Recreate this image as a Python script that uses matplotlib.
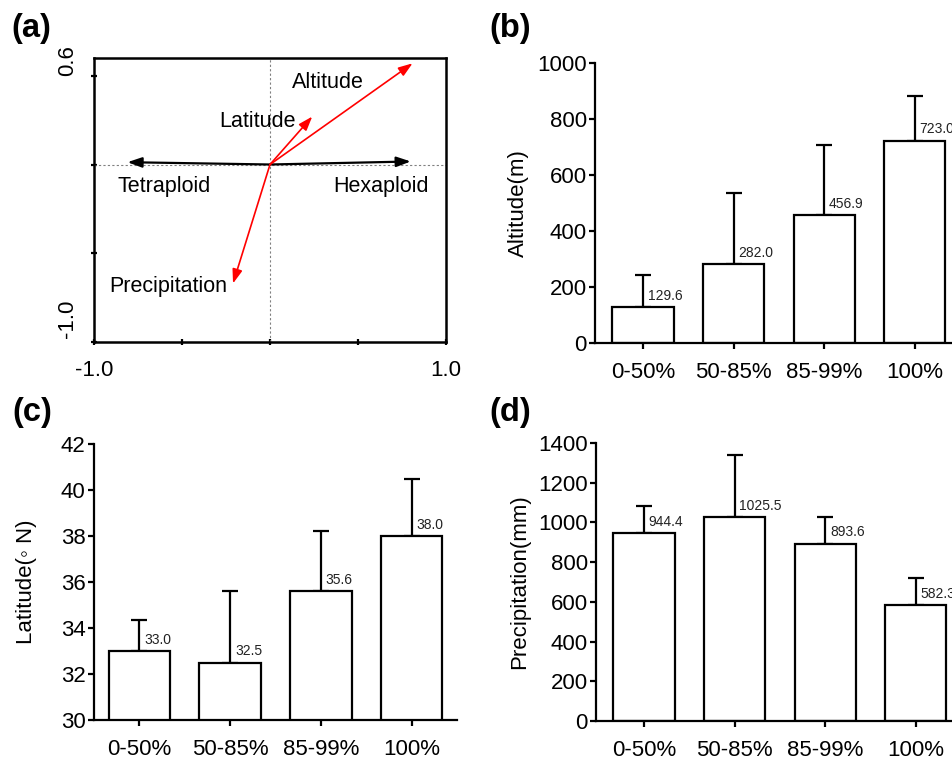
import matplotlib
matplotlib.use('Agg')
import matplotlib.pyplot as plt

plt.rcParams['font.family'] = ['Liberation Sans', 'DejaVu Sans']

# ---- data ----
groups = ['0-50%', '50-85%', '85-99%', '100%']
altitude = [129.6, 282.0, 456.9, 723.0]
altitude_sd = [113, 255, 251, 160]
latitude = [33.0, 32.5, 35.6, 38.0]
latitude_sd = [1.35, 3.12, 2.63, 2.48]
precip = [944.4, 1025.5, 893.6, 582.3]
precip_sd = [140, 314, 135, 139]

# biplot vectors (panel a)
ploidy_names = ['Tetraploid', 'Hexaploid']
ploidy_x = [-0.81, 0.80]
ploidy_y = [0.013, 0.017]
env_names = ['Altitude', 'Latitude', 'Precipitation']
env_x = [0.81, 0.24, -0.21]
env_y = [0.57, 0.27, -0.67]

# label positions for the biplot
label_pos = {'Tetraploid': (-0.60, -0.125), 'Hexaploid': (0.63, -0.125),
             'Altitude': (0.33, 0.46), 'Latitude': (-0.07, 0.24),
             'Precipitation': (-0.58, -0.69)}

W, H = 952, 761
fig = plt.figure(figsize=(W / 100, H / 100), dpi=100)

def px_axes(left, top, width, height):
    return fig.add_axes([left / W, 1 - (top + height) / H, width / W, height / H])

head = '-|>,head_length=0.85,head_width=0.3'

# --- (a) biplot ---
ax = px_axes(94, 58, 352, 284)
ax.set_xlim(-1, 1)
ax.set_ylim(-1.0, 0.6)
ax.axhline(0, color='gray', lw=0.8, ls='--', dashes=(2, 2))
ax.axvline(0, color='gray', lw=0.8, ls='--', dashes=(2, 2))
for name, x, y in zip(ploidy_names, ploidy_x, ploidy_y):
    ax.annotate('', xy=(x, y), xytext=(0, 0),
                arrowprops=dict(arrowstyle=head, color='black', lw=1.6,
                                mutation_scale=10, shrinkA=0, shrinkB=0))
    ax.text(*label_pos[name], name, ha='center', va='center', fontsize=15.5)
for name, x, y in zip(env_names, env_x, env_y):
    ax.annotate('', xy=(x, y), xytext=(0, 0),
                arrowprops=dict(arrowstyle=head, color='red', lw=1.2,
                                mutation_scale=10, shrinkA=0, shrinkB=0))
    ax.text(*label_pos[name], name, ha='center', va='center', fontsize=15.5)
ax.set_xticks([-1, -0.5, 0, 0.5, 1])
ax.set_xticklabels(['-1.0', '', '', '', '1.0'], fontsize=16)
ax.set_yticks([-1, -0.5, 0, 0.5])
ax.set_yticklabels([])
ax.tick_params(direction='inout', length=4, width=1.6, pad=11)
for s in ax.spines.values():
    s.set_linewidth(1.8)
ax.text(-1.148, 0.583, '0.6', rotation=90, ha='center', va='center', fontsize=16)
ax.text(-1.148, -0.869, '-1.0', rotation=90, ha='center', va='center', fontsize=16)


def bar_panel(ax, vals, sds, ylim, yticks, ylabel, label_x, x0):
    x = range(len(groups))
    ax.bar(x, vals, width=0.675, color='white', edgecolor='black', linewidth=1.6, zorder=2)
    ax.errorbar(x, vals, yerr=[[0] * len(sds), sds], fmt='none', ecolor='black',
                elinewidth=1.6, capsize=6, capthick=1.6, zorder=1)
    for i, v in enumerate(vals):
        ax.annotate(f'{v:.1f}', (i, v), xytext=(3.5, 3), textcoords='offset points',
                    ha='left', va='bottom', fontsize=10, color='#222222')
    ax.set_xlim(x0, 3.5)
    ax.set_ylim(*ylim)
    ax.set_yticks(yticks)
    ax.set_xticks(list(x))
    ax.set_xticklabels(groups)
    ax.spines['top'].set_visible(False)
    ax.spines['right'].set_visible(False)
    ax.spines['left'].set_linewidth(1.6)
    ax.spines['bottom'].set_linewidth(1.6)
    ax.tick_params(axis='x', direction='out', length=4, width=1.6, pad=10, labelsize=16)
    ax.tick_params(axis='y', direction='out', length=4, width=1.6, pad=2, labelsize=16)
    ax.set_ylabel(ylabel, fontsize=16)
    ax.yaxis.set_label_coords(label_x, 0.5)

# --- (b) altitude ---
axb = px_axes(595, 63, 365, 280)
bar_panel(axb, altitude, altitude_sd, (0, 1000), range(0, 1001, 200), 'Altitude(m)', -0.18, -0.53)

# --- (c) latitude ---
axc = px_axes(94, 444, 363, 276)
bar_panel(axc, latitude, latitude_sd, (30, 42), range(30, 43, 2), 'Latitude(◦ N)', -0.157, -0.5)

# --- (d) precipitation ---
axd = px_axes(596, 443, 365, 278)
bar_panel(axd, precip, precip_sd, (0, 1400), range(0, 1401, 200), 'Precipitation(mm)', -0.18, -0.53)

# panel letters
for letter, (px, py) in zip('abcd', [(11, 29), (489, 29), (12, 412), (489, 412)]):
    fig.text(px / W, 1 - py / H, f'({letter})', fontsize=23.5, fontweight='bold',
             ha='left', va='center')

fig.savefig('out.png', dpi=100)
